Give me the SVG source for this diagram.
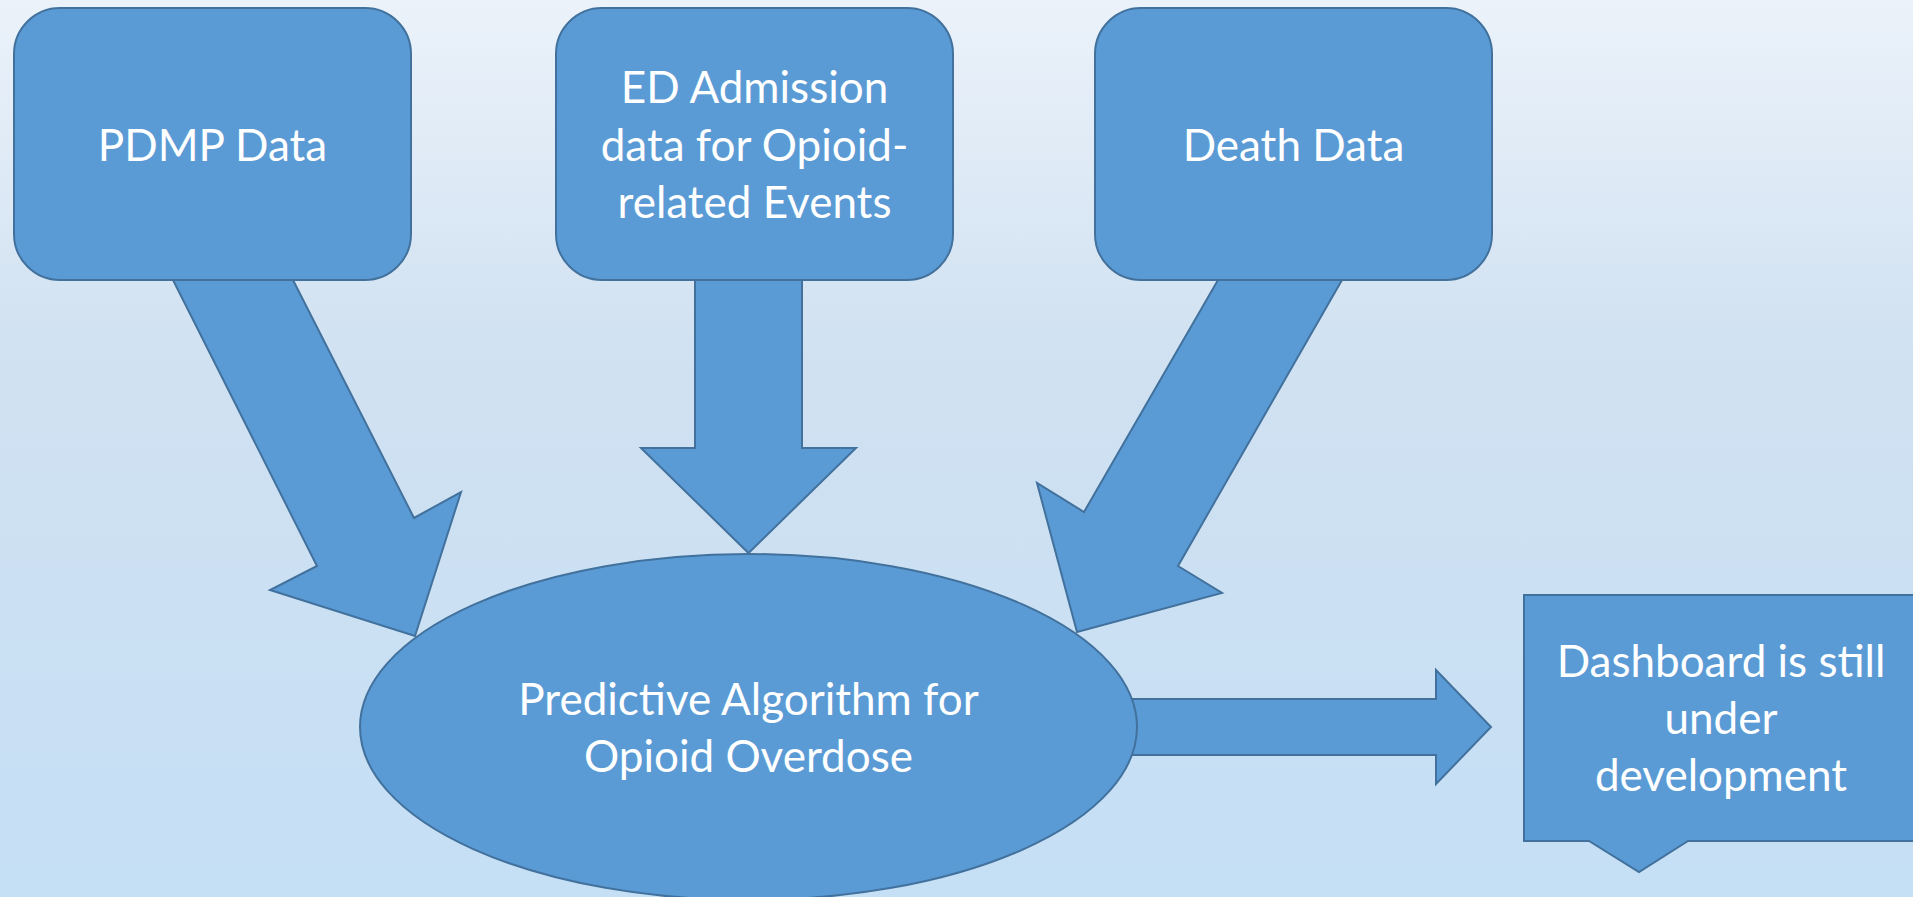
<svg xmlns="http://www.w3.org/2000/svg" width="1913" height="897" viewBox="0 0 1913 897">
<defs>
<linearGradient id="bg" x1="0" y1="0" x2="0" y2="1">
<stop offset="0" stop-color="#EBF2FA"/>
<stop offset="0.4" stop-color="#D0E1F1"/>
<stop offset="1" stop-color="#C5DFF5"/>
</linearGradient>
<style>
.shape{fill:#5B9BD5;stroke:#41719C;stroke-width:2;stroke-linejoin:miter}
.lbl{font-family:Lato,"Open Sans","Liberation Sans",sans-serif;font-size:44px;fill:#FFFFFF;text-anchor:middle}
</style>
</defs>
<rect x="0" y="0" width="1913" height="897" fill="url(#bg)"/>
<g id="connectors">
<polygon class="shape" points="173,280 293,280 414,518 461,492 415,636 270,590 317,566"/>
<polygon class="shape" points="695,280 802,280 802,448 856,448 748.5,553 641,448 695,448"/>
<polygon class="shape" points="1218,280 1342,280 1178,566 1222,593 1077,632 1037,483 1084,512"/>
<polygon class="shape" points="1120,699 1436,699 1436,670 1491,727 1436,784 1436,755 1120,755"/>
</g>
<g id="pdmp">
<rect class="shape" x="14" y="8" width="397" height="272" rx="46" ry="46"/>
<text class="lbl" x="212.5" y="161">PDMP Data</text>
</g>
<g id="ed">
<rect class="shape" x="556" y="8" width="397" height="272" rx="46" ry="46"/>
<text class="lbl" x="754.5" y="103">ED Admission</text>
<text class="lbl" x="754.5" y="161">data for Opioid-</text>
<text class="lbl" x="754.5" y="218">related Events</text>
</g>
<g id="death">
<rect class="shape" x="1095" y="8" width="397" height="272" rx="46" ry="46"/>
<text class="lbl" x="1293.5" y="161">Death Data</text>
</g>
<g id="algorithm">
<ellipse class="shape" cx="748.5" cy="727" rx="388.5" ry="173"/>
<text class="lbl" x="748.5" y="715">Predictive Algorithm for</text>
<text class="lbl" x="748.5" y="772">Opioid Overdose</text>
</g>
<g id="dashboard">
<polygon class="shape" points="1524,595 1920,595 1920,841 1688,841 1639,872 1589,841 1524,841"/>
<text class="lbl" x="1721" y="677">Dashboard is still</text>
<text class="lbl" x="1721" y="734">under</text>
<text class="lbl" x="1721" y="791">development</text>
</g>
</svg>
